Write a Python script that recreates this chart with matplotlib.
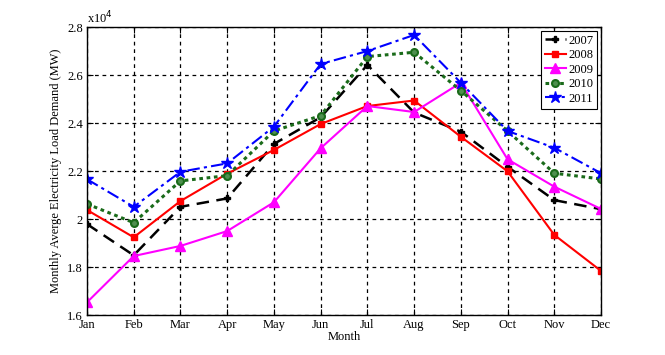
import numpy as np
import matplotlib.pyplot as plt
from matplotlib.ticker import FuncFormatter

months = ['Jan', 'Feb', 'Mar', 'Apr', 'May', 'Jun', 'Jul', 'Aug', 'Sep', 'Oct', 'Nov', 'Dec']
load_2007 = [19800, 18500, 20520, 20870, 23140, 24250, 26430, 24450, 23650, 22190, 20800, 20420]
load_2008 = [20390, 19250, 20760, 21900, 22890, 23970, 24720, 24950, 23440, 22000, 19350, 17850]
load_2009 = [16540, 18470, 18890, 19510, 20710, 22960, 24720, 24470, 25690, 22500, 21360, 20430]
load_2010 = [20640, 19860, 21600, 21820, 23680, 24320, 26780, 26960, 25360, 23680, 21920, 21680]
load_2011 = [21670, 20520, 21980, 22330, 23860, 26470, 27010, 27680, 25690, 23680, 22980, 21920]
years = ['2007', '2008', '2009', '2010', '2011']

plt.rcParams['font.family'] = ['Liberation Serif', 'DejaVu Serif']
plt.rcParams['font.size'] = 9

fig = plt.figure(figsize=(6.65, 3.55), dpi=100)
ax = fig.add_axes([0.1308, 0.1118, 0.7730, 0.8113])

x = np.arange(len(months))
styles = [
    dict(color='black', linestyle=(0, (5, 3)), marker='P', markersize=4, linewidth=1.8),
    dict(color='red', linestyle='-', marker='s', markersize=5, linewidth=1.5),
    dict(color='magenta', linestyle='-', marker='^', markersize=7, linewidth=1.5),
    dict(color='#1a6b1a', linestyle=(0, (1.2, 1.2)), marker='o', markersize=5, linewidth=2.2,
         markerfacecolor='#4f8f4f', markeredgecolor='#1a6b1a', markeredgewidth=1.5),
    dict(color='blue', linestyle=(0, (6, 2, 1.5, 2)), marker='*', markersize=9, linewidth=1.5),
]
series = [load_2007, load_2008, load_2009, load_2010, load_2011]
for yr, vals, st in zip(years, series, styles):
    ax.plot(x, vals, label=yr, **st)

ax.set_xlim(0, 11)
ax.set_ylim(16000, 28000)
ax.set_xticks(x)
ax.set_xticklabels(months)
ax.set_yticks(np.arange(16000, 28001, 2000))
ax.yaxis.set_major_formatter(FuncFormatter(lambda v, p: '{:g}'.format(v / 1e4)))
ax.tick_params(direction='in', length=4, top=True, right=True, pad=3)
ax.grid(True, color='black', linestyle=(0, (3, 3)), linewidth=0.9)
for s in ax.spines.values():
    s.set_linewidth(1.0)

ax.text(0.0, 1.005, r'x10$^4$', transform=ax.transAxes, ha='left', va='bottom', fontsize=9)
ax.set_xlabel('Month', labelpad=0)
ax.set_ylabel('Monthly Averge Electricity Load Demand (MW)', labelpad=4)

leg = ax.legend(loc='upper right', fontsize=9, fancybox=False, framealpha=1,
                edgecolor='black', borderpad=0.3, labelspacing=0.2, handlelength=1.7,
                handletextpad=0.2, borderaxespad=0.3)
leg.get_frame().set_linewidth(0.8)

fig.savefig('out.png', dpi=100)
